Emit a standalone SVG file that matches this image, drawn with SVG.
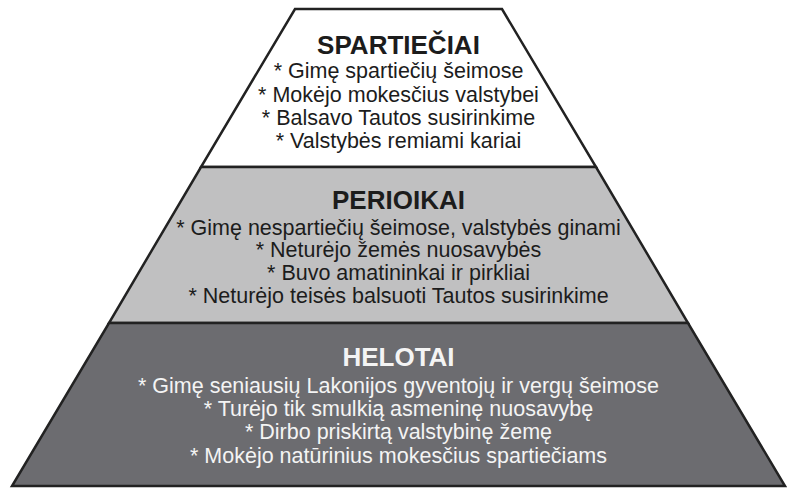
<svg xmlns="http://www.w3.org/2000/svg" width="796" height="498" viewBox="0 0 796 498">
  <style>
    .tier { stroke: #222222; stroke-width: 2.5; stroke-linejoin: miter; }
    .title { font-family: "Liberation Sans", Arial, sans-serif; font-weight: bold; font-size: 26px; text-anchor: middle; }
    .item { font-family: "Liberation Sans", Arial, sans-serif; font-size: 21.5px; text-anchor: middle; }
    .dark { fill: #1c1c1c; }
    .light { fill: #f4f4f4; }
  </style>
  <rect width="796" height="498" fill="#ffffff"/>
  <g id="tier-spartieciai">
    <polygon class="tier" fill="#ffffff" points="295,9 502,9 596,167 201,167"/>
    <text class="title dark" x="398.5" y="54">SPARTIEČIAI</text>
    <text class="item dark" x="398.5" y="78.3">* Gimę spartiečių šeimose</text>
    <text class="item dark" x="398.5" y="101.7">* Mokėjo mokesčius valstybei</text>
    <text class="item dark" x="398.5" y="125">* Balsavo Tautos susirinkime</text>
    <text class="item dark" x="398.5" y="148.4">* Valstybės remiami kariai</text>
  </g>
  <g id="tier-perioikai">
    <polygon class="tier" fill="#c0c0c1" points="201,167 596,167 688,323 109,323"/>
    <text class="title dark" x="398.5" y="209">PERIOIKAI</text>
    <text class="item dark" x="398.5" y="234.5">* Gimę nespartiečių šeimose, valstybės ginami</text>
    <text class="item dark" x="398.5" y="257.3">* Neturėjo žemės nuosavybės</text>
    <text class="item dark" x="398.5" y="280">* Buvo amatininkai ir pirkliai</text>
    <text class="item dark" x="398.5" y="302.8">* Neturėjo teisės balsuoti Tautos susirinkime</text>
  </g>
  <g id="tier-helotai">
    <polygon class="tier" fill="#6c6c70" points="109,323 688,323 785,486 12,486"/>
    <text class="title light" x="398.5" y="366">HELOTAI</text>
    <text class="item light" x="398.5" y="392.5">* Gimę seniausių Lakonijos gyventojų ir vergų šeimose</text>
    <text class="item light" x="398.5" y="415.8">* Turėjo tik smulkią asmeninę nuosavybę</text>
    <text class="item light" x="398.5" y="439.2">* Dirbo priskirtą valstybinę žemę</text>
    <text class="item light" x="398.5" y="462.5">* Mokėjo natūrinius mokesčius spartiečiams</text>
  </g>
  <g id="connectors"/>
</svg>
